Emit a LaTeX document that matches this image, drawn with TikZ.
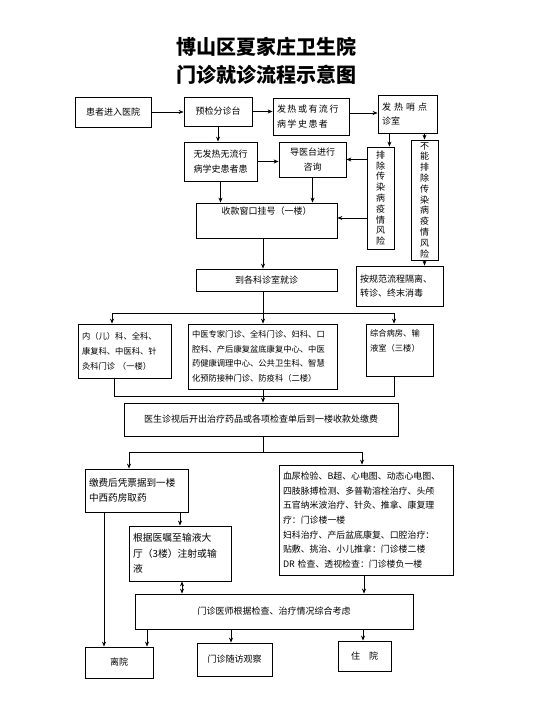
\documentclass[tikz,border=0pt]{standalone}
\usepackage{fontspec}
\setmainfont{Noto Sans CJK SC}
\usetikzlibrary{arrows.meta,calc}
\tikzset{
  box/.style={draw, line width=0.8pt, inner xsep=4pt, inner ysep=2pt, font=\fontsize{9}{14.5}\selectfont, align=center},
  lbox/.style={box, align=left},
  arr/.style={-{Stealth[length=5pt,width=4pt]}, line width=0.7pt},
  darr/.style={{Stealth[length=5pt,width=4pt]}-{Stealth[length=5pt,width=4pt]}, line width=0.7pt},
  ln/.style={line width=0.7pt},
  vtext/.style={box, font=\fontsize{9}{10.8}\selectfont, inner xsep=1pt}
}
\begin{document}
\begin{tikzpicture}[x=1pt,y=-1pt]
\useasboundingbox (0,0) rectangle (539,711);
% title
\node[font=\fontsize{20}{24}\selectfont\bfseries] (t1) at (266,47) {博山区夏家庄卫生院};
\node[font=\fontsize{20}{24}\selectfont\bfseries] (t2) at (266,75) {门诊就诊流程示意图};
% row 1
\node[box, minimum width=76, minimum height=30] (p1) at (113,112) {患者进入医院};
\node[box, minimum width=68, minimum height=29] (p2) at (218,111.5) {预检分诊台};
\node[lbox, text width=68pt, minimum height=37] (p3) at (311,116.5) {发\,热\,或\,有\,流\,行\\病\,学\,史\,患\,者};
\node[lbox, text width=51pt, minimum height=38] (p4) at (407.5,114) {发\,\,热\,\,哨\,\,点\\诊室};
% row 2
\node[box, minimum width=73, minimum height=39] (p5) at (220.5,161.5) {无发热无流行\\病学史患者患};
\node[box, minimum width=67, minimum height=35] (p6) at (312.5,159.5) {导医台进行\\咨询};
\node[vtext, minimum width=27, minimum height=102] (p7) at (380.5,198) {排\\除\\传\\染\\病\\疫\\情\\风\\险};
\node[vtext, minimum width=27, minimum height=120] (p8) at (424.5,200) {不\\能\\排\\除\\传\\染\\病\\疫\\情\\风\\险};
% registration
\node[box, minimum width=141, minimum height=35] (p9) at (266.5,220.5) {收款窗口挂号（一楼）\\[6pt]\mbox{}};
\node[box, minimum width=141, minimum height=22] (p10) at (266.5,280) {到各科诊室就诊};
\node[lbox, text width=79pt, minimum height=40] (p11) at (399.5,286) {按规范流程隔离、\\转诊、终末消毒};
% departments
\node[lbox, text width=85pt, minimum height=54, font=\fontsize{8.3}{15}\selectfont] (p12) at (124.5,351) {内（儿）科、全科、\\康复科、中医科、针\\灸科门诊\ （一楼）};
\node[lbox, text width=141pt, minimum height=65, font=\fontsize{8.3}{14.7}\selectfont] (p13) at (262.5,356.5) {中医专家门诊、全科门诊、妇科、口\\腔科、产后康复盆底康复中心、中医\\药健康调理中心、公共卫生科、智慧\\化预防接种门诊、防疫科（二楼）};
\node[lbox, text width=59pt, minimum height=52, font=\fontsize{8.3}{15}\selectfont] (p14) at (399.5,350) {综合病房、输\\液室（三楼）\\[4pt]\mbox{}};
% payment
\node[box, minimum width=274, minimum height=33] (p15) at (261,419.5) {医生诊视后开出治疗药品或各项检查单后到一楼收款处缴费};
\node[lbox, text width=95pt, minimum height=43, font=\fontsize{9.6}{15}\selectfont] (p16) at (136.5,490.5) {缴费后凭票据到一楼\\中西药房取药};
\node[lbox, text width=166pt, minimum height=110, font=\fontsize{8.9}{14.6}\selectfont] (p17) at (366,520) {血尿检验、B超、心电图、动态心电图、\\四肢脉搏检测、多普勒溶栓治疗、头颅\\五官纳米波治疗、针灸、推拿、康复理\\疗：门诊楼一楼\\妇科治疗、产后盆底康复、口腔治疗：\\贴敷、挑治、小儿推拿：门诊楼二楼\\DR 检查、透视检查：门诊楼负一楼};
\node[lbox, text width=94pt, minimum height=55, font=\fontsize{9.8}{15.5}\selectfont] (p18) at (180,553.5) {根据医嘱至输液大\\厅（3楼）注射或输\\液};
\node[box, minimum width=278, minimum height=35] (p19) at (274,611.5) {门诊医师根据检查、治疗情况综合考虑};
\node[box, minimum width=68, minimum height=31] (p20) at (119,662.5) {离院};
\node[box, minimum width=75, minimum height=33] (p21) at (234.5,659.5) {门诊随访观察};
\node[box, minimum width=53, minimum height=30] (p22) at (364.5,656) {住\quad 院};
% connectors, top part
\draw[arr] (p1.east) -- (p1.east -| p2.west);
\draw[arr] (p2.east) -- (p2.east -| p3.west);
\draw[arr] ([yshift=3.5pt]p3.east) -- ([yshift=3.5pt]p3.east -| p4.west);
\draw[arr] (p2.south) -- (p2.south |- p5.north);
\draw[arr] (p5.east) -- (p5.east -| p6.west);
\draw[arr] ([xshift=-5pt]p7.north east |- p4.south) -- ([xshift=-5pt]p7.north east);
\draw[arr] (p8.north |- p4.south) -- (p8.north);
\draw[arr] (p7.west |- p6.east) -- (p6.east);
\draw[arr] ([yshift=2.5pt]p7.west |- p9.east) -- ([yshift=2.5pt]p9.east);
\draw[arr] (p5.south) -- (p5.south |- p9.north);
\draw[arr] (p6.south) -- (p6.south |- p9.north);
\draw[arr] ([xshift=-3.5pt]p9.south) -- ([xshift=-3.5pt]p9.south |- p10.north);
\draw[arr] (p8.south) -- (p8.south |- p11.north);
% branch to departments
\coordinate (b1) at (112,313);
\coordinate (b2) at (394,313);
\coordinate (b0) at (263,313);
\draw[ln] ([xshift=-3.5pt]p10.south) -- (b0);
\draw[ln] (b1) -- (b2);
\draw[arr] (b1) -- (b1 |- p12.north);
\draw[arr] (b0) -- (b0 |- p13.north);
\draw[arr] (b2) -- (b2 |- p14.north);
% merge
\coordinate (m1) at (114,396);
\coordinate (m2) at (394,396);
\draw[ln] (m1 |- p12.south) -- (m1) -- (m2) -- (m2 |- p14.south);
\draw[arr] (b0 |- p13.south) -- (b0 |- p15.north);
% branch after payment
\coordinate (c0) at (263,452);
\coordinate (c1) at (129,452);
\coordinate (c2) at (362,452);
\draw[ln] (c0 |- p15.south) -- (c0);
\draw[ln] (c1) -- (c2);
\draw[arr] (c1) -- (c1 |- p16.north);
\draw[arr] (c2) -- (c2 |- p17.north);
\draw[arr] (p18.north |- p16.south) -- (p18.north);
\draw[arr] ([xshift=-15pt]p20.north |- p16.south) -- ([xshift=-15pt]p20.north);
\draw[darr] ([xshift=2pt]p18.south) -- ([xshift=2pt]p18.south |- p19.north);
\draw[arr] ([xshift=-2pt]p17.south) -- ([xshift=-2pt]p17.south |- p19.north);
% outcomes
\draw[arr] ([xshift=28pt]p20.north |- p19.south) -- ([xshift=28pt]p20.north);
\draw[arr] ([xshift=-3.5pt]p21.north |- p19.south) -- ([xshift=-3.5pt]p21.north);
\draw[arr] ([xshift=-1.5pt]p22.north |- p19.south) -- ([xshift=-1.5pt]p22.north);
\end{tikzpicture}
\end{document}
